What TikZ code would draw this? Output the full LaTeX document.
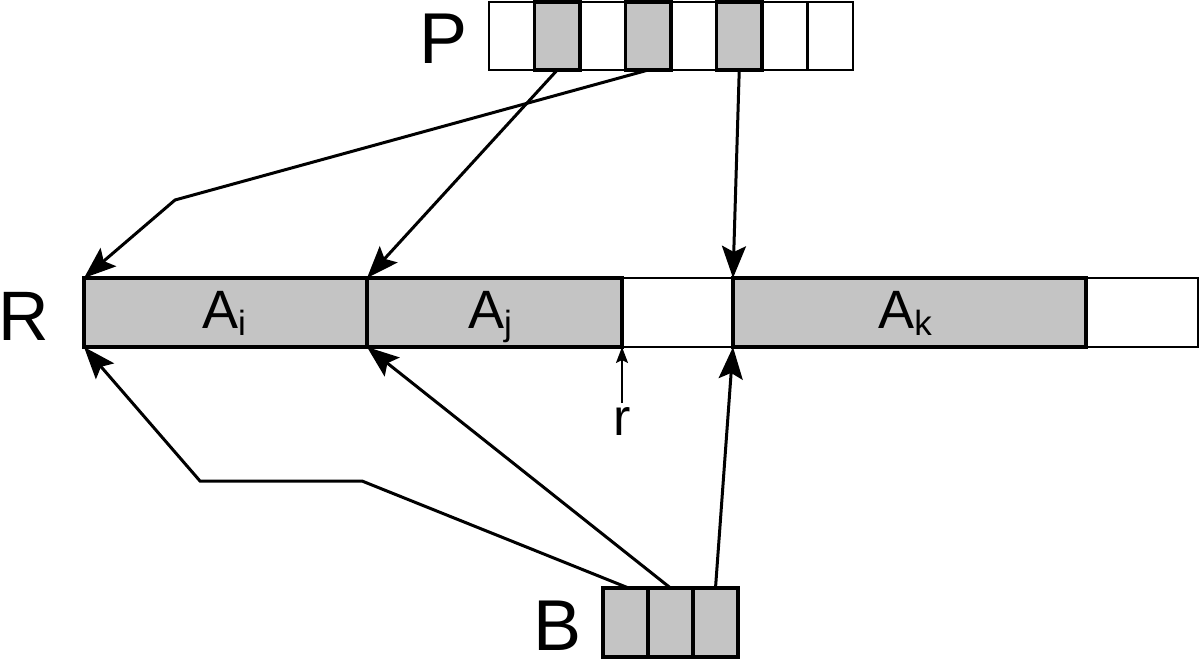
\documentclass[tikz,border=0pt]{standalone}
\usepackage{fontspec}
\setmainfont{Liberation Sans}
\usetikzlibrary{arrows.meta}
\definecolor{cellgray}{RGB}{196,196,196}
\begin{document}
\begin{tikzpicture}[x=1pt,y=-1pt,
  cell/.style={draw, line width=2.2pt, minimum height=68pt, inner sep=0pt, outer sep=0pt, fill=white},
  gcell/.style={cell, fill=cellgray, line width=3.2pt},
  big/.style={font=\fontsize{72}{72}\selectfont, inner sep=0pt, anchor=base, text depth=0pt},
  seglabel/.style={font=\fontsize{54}{54}\selectfont, inner sep=0pt, anchor=base},
  conn/.style={line width=3pt, -{Stealth[length=32pt,width=24pt,inset=6pt]}},
  small/.style={line width=2pt, -{Stealth[length=16pt,width=12pt,inset=3pt]}}
]
\useasboundingbox (0,0) rectangle (1200,659);
% P array
\foreach \i in {0,...,7} {
  \node[cell, minimum width=45.5pt] (p\i) at (511.75+45.5*\i,36) {};
}
\foreach \i in {1,3,5} {
  \node[gcell, minimum width=45.5pt] at (p\i) {};
}
\node[big] (Plab) at (444,63) {P};
% R row
\node[cell, minimum width=353pt, minimum height=69pt, fill=white] (gap) at (677.5,312.5) {};
\node[cell, minimum width=112pt, minimum height=69pt] (tail) at (1142,312.5) {};
\node[gcell, minimum width=283pt, minimum height=69pt] (Ai) at (225.5,312.5) {};
\node[gcell, minimum width=255pt, minimum height=69pt] (Aj) at (494.5,312.5) {};
\node[gcell, minimum width=353pt, minimum height=69pt] (Ak) at (909.5,312.5) {};
\node[seglabel] (ti) at (224,328) {A\raisebox{-7pt}{\fontsize{35}{35}\selectfont i}};
\node[seglabel] (tj) at (490,328) {A\raisebox{-7pt}{\fontsize{35}{35}\selectfont j}};
\node[seglabel] (tk) at (905,328) {A\raisebox{-7pt}{\fontsize{35}{35}\selectfont k}};
\node[big, font=\fontsize{70}{70}\selectfont] (Rlab) at (24,340) {R};
% B array
\foreach \i in {0,1,2} {
  \node[gcell, minimum width=45pt, minimum height=69pt] (b\i) at (625.5+45*\i,622.5) {};
}
\node[big] (Blab) at (558,650) {B};
% r marker
\node[font=\fontsize{52}{52}\selectfont, inner sep=0pt, anchor=base] (rlab) at (622,435) {r};
\coordinate (rtail) at (622,403);
\draw[small] (rtail) -- (Aj.south east);
% connectors
\coordinate (c1) at (175,200);
\coordinate (c2) at (362,481);
\coordinate (c3) at (200,481);
\draw[conn] (p3.south) -- (c1) -- (Ai.north west);
\draw[conn] (p1.south) -- (Aj.north west);
\draw[conn] (p5.south) -- (Ak.north west);
\draw[conn] ([xshift=3pt]b0.north) -- (c2) -- (c3) -- (Ai.south west);
\draw[conn] (b1.north) -- (Aj.south west);
\draw[conn] (b2.north) -- (Ak.south west);
\end{tikzpicture}
\end{document}
